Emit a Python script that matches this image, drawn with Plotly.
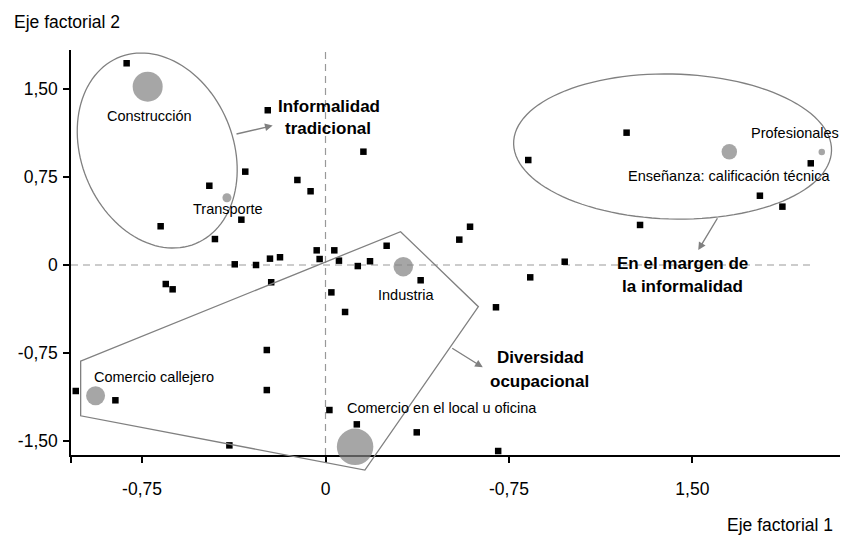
import numpy as np
import plotly.graph_objects as go

# ---------------- data ----------------
# black squares: other occupational categories
sq_x = [-0.813, -0.236, 0.155, -0.328, -0.475, -0.115, -0.061, -0.344, -0.674, -0.452,
        -0.371, -0.284, -0.227, -0.186, -0.036, -0.024, 0.036, 0.055, 0.132, 0.182,
        0.250, -0.222, -0.653, -0.625, 0.024, 0.080, 0.389, 0.547, 0.591, 0.697,
        0.837, 0.978, 0.829, 1.231, 1.286, 1.776, 1.868, 1.984, -0.240, -0.240,
        -1.021, -0.859, -0.393, 0.016, 0.128, 0.373, 0.706]
sq_y = [1.718, 1.318, 0.965, 0.795, 0.675, 0.724, 0.628, 0.386, 0.330, 0.221,
        0.006, 0.000, 0.054, 0.066, 0.125, 0.051, 0.125, 0.037, -0.009, 0.032,
        0.164, -0.147, -0.162, -0.207, -0.233, -0.400, -0.130, 0.216, 0.326, -0.360,
        -0.105, 0.028, 0.894, 1.127, 0.341, 0.590, 0.497, 0.866, -0.724, -1.065,
        -1.073, -1.152, -1.536, -1.235, -1.357, -1.425, -1.584]

# gray circles: main occupational groups
occ_names = ["Construcción", "Transporte", "Industria", "Comercio callejero",
             "Comercio en el local u oficina", "Enseñanza: calificación técnica",
             "Profesionales"]
occ_x = [-0.727, -0.403, 0.318, -0.940, 0.121, 1.651, 2.029]
occ_y = [1.519, 0.573, -0.014, -1.113, -1.548, 0.965, 0.963]
occ_weight = [30, 9, 19.5, 19, 36.5, 15.5, 6.5]

x_tickvals = [-0.75, 0, 0.75, 1.5]
x_ticktext = ["-0,75", "0", "-0,75", "1,50"]
y_tickvals = [-1.5, -0.75, 0, 0.75, 1.5]
y_ticktext = ["-1,50", "-0,75", "0", "0,75", "1,50"]

x_title = "Eje factorial 1"
y_title = "Eje factorial 2"

group_labels = [["Informalidad", "tradicional"],
                ["En el margen de", "la informalidad"],
                ["Diversidad", "ocupacional"]]

# ---------------- layout helpers ----------------
W, H = 841, 535
ML, MR, MT, MB = 71, 1, 50, 80
PW, PH = W - ML - MR, H - MT - MB
XR = [-1.0405, 2.1035]
YR = [-1.618, 1.831]
FONT = "Liberation Sans, Arial, sans-serif"
GRAY = "#808080"


def to_paper(x, y):
    return (x - XR[0]) / (XR[1] - XR[0]), (y - YR[0]) / (YR[1] - YR[0])


def ellipse_path(cx, cy, a, b, rot_deg, n=120):
    px0, py0 = to_paper(cx, cy)
    th = np.radians(rot_deg)
    pts = []
    for t in np.linspace(0, 2 * np.pi, n):
        dx = a * np.cos(t) * np.cos(th) - b * np.sin(t) * np.sin(th)
        dy = a * np.cos(t) * np.sin(th) + b * np.sin(t) * np.cos(th)
        pts.append((px0 + dx / PW, py0 - dy / PH))
    return "M " + " L ".join(f"{x:.5f},{y:.5f}" for x, y in pts) + " Z"


def poly_path(vx, vy):
    pts = [to_paper(x, y) for x, y in zip(vx, vy)]
    return "M " + " L ".join(f"{x:.5f},{y:.5f}" for x, y in pts) + " Z"


fig = go.Figure()

fig.add_trace(go.Scatter(
    x=sq_x, y=sq_y, mode="markers", cliponaxis=False,
    marker=dict(symbol="square", size=6.5, color="black", line=dict(width=0)),
    hoverinfo="skip", showlegend=False))

fig.add_trace(go.Scatter(
    x=occ_x, y=occ_y, mode="markers", cliponaxis=False,
    marker=dict(symbol="circle", size=occ_weight, color=GRAY, line=dict(width=0)),
    text=occ_names, hoverinfo="text", showlegend=False))

shapes = []
# dashed zero lines
shapes.append(dict(type="line", xref="x", yref="y", x0=XR[0], x1=1.993, y0=0, y1=0,
                   line=dict(color="#999999", width=1.2, dash="7px,5px"), layer="below"))
shapes.append(dict(type="line", xref="x", yref="y", x0=0, x1=0, y0=YR[0], y1=YR[1],
                   line=dict(color="#999999", width=1.2, dash="7px,5px"), layer="below"))
# ellipses
shapes.append(dict(type="path", xref="paper", yref="paper",
                   path=ellipse_path(-0.688, 0.975, 100.7, 75.9, 67.6),
                   line=dict(color=GRAY, width=1.3)))
shapes.append(dict(type="path", xref="paper", yref="paper",
                   path=ellipse_path(1.419, 1.009, 159, 72.5, 1.5),
                   line=dict(color=GRAY, width=1.3)))
# polygon
shapes.append(dict(type="path", xref="paper", yref="paper",
                   path=poly_path([-1.001, 0.307, 0.625, 0.161, -1.001],
                                  [-0.818, 0.284, -0.355, -1.746, -1.284]),
                   line=dict(color=GRAY, width=1.3)))

ann = []
# occupation labels (offsets in pixels from each circle)
lab_style = [("center", 1.5, -29), ("center", 1.5, -11.5), ("center", 3.5, -28),
             ("left", -4, 19), ("left", -10, 38.4), ("center", 0, -24.3),
             ("right", 19, 18.7)]
for name, x, y, (xa, xs, ys) in zip(occ_names, occ_x, occ_y, lab_style):
    ann.append(dict(x=x, y=y, xref="x", yref="y", text=name, showarrow=False,
                    xanchor=xa, yanchor="middle", xshift=xs, yshift=ys,
                    font=dict(family=FONT, size=14.5, color="black")))

# group labels (bold)
grp_pos = [[(0.014, 1.350), (0.012, 1.163)],
           [(1.460, 0.014), (1.460, -0.185)],
           [(0.877, -0.786), (0.876, -0.994)]]
for lines, poss in zip(group_labels, grp_pos):
    for t, (x, y) in zip(lines, poss):
        ann.append(dict(x=x, y=y, xref="x", yref="y", text=f"<b>{t}</b>", showarrow=False,
                        xanchor="center", yanchor="middle",
                        font=dict(family=FONT, size=17, color="black")))

# arrows (tail -> tip)
arrows = [((-0.370, 1.113), (-0.216, 1.187)),
          ((1.606, 0.411), (1.524, 0.128)),
          ((0.512, -0.701), (0.643, -0.871))]
for (ax, ay), (x, y) in arrows:
    ann.append(dict(x=x, y=y, ax=ax, ay=ay, xref="x", yref="y", axref="x", ayref="y",
                    text="", showarrow=True, arrowhead=2, arrowsize=1.1, arrowwidth=1.4,
                    arrowcolor=GRAY, standoff=0, startstandoff=0))

# axis titles
ann.append(dict(x=(11.7 - ML) / PW, y=(H - MB - 21.7) / PH, xref="paper", yref="paper",
                text=y_title, showarrow=False, xanchor="left", yanchor="middle",
                font=dict(family=FONT, size=17.5, color="black")))
ann.append(dict(x=(835 - ML) / PW, y=(H - MB - 525) / PH, xref="paper", yref="paper",
                text=x_title, showarrow=False, xanchor="right", yanchor="middle",
                font=dict(family=FONT, size=17.5, color="black")))

fig.update_layout(
    width=W, height=H,
    margin=dict(l=ML, r=MR, t=MT, b=MB, pad=0),
    paper_bgcolor="white", plot_bgcolor="white",
    shapes=shapes, annotations=ann, showlegend=False,
    font=dict(family=FONT, size=17, color="black"),
    xaxis=dict(range=XR, showgrid=False, zeroline=False, showline=True,
               linecolor="black", linewidth=1.5, ticks="outside", ticklen=6,
               tickwidth=1.5, tickcolor="black",
               tickvals=[XR[0] + 0.001] + x_tickvals, ticktext=[""] + x_ticktext,
               tickfont=dict(family=FONT, size=17.5, color="black"),
               ticklabelstandoff=11, layer="below traces", fixedrange=True),
    yaxis=dict(range=YR, showgrid=False, zeroline=False, showline=True,
               linecolor="black", linewidth=1.5, ticks="outside", ticklen=6,
               tickwidth=1.5, tickcolor="black",
               tickvals=y_tickvals, ticktext=y_ticktext,
               tickfont=dict(family=FONT, size=17.5, color="black"),
               ticklabelstandoff=2, layer="below traces", fixedrange=True),
)

fig.write_html("out.html", config={"displayModeBar": False},
               post_script="document.body.style.margin='0px';document.body.style.padding='0px';")
